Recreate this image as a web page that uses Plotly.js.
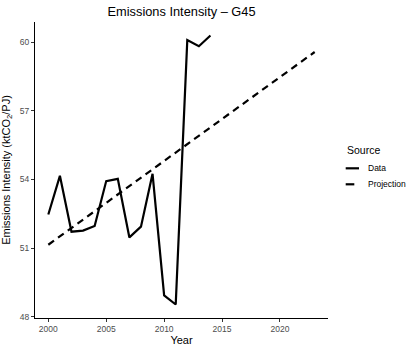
<!DOCTYPE html>
<html>
<head>
<meta charset="utf-8">
<script src="https://cdn.plot.ly/plotly-3.0.1.min.js"></script>
<style>
  html, body { margin: 0; padding: 0; background: #fff; }
  #chart { width: 415px; height: 346px; }
</style>
</head>
<body>
<div id="chart"></div>
<script>
// values
var years = [2000, 2001, 2002, 2003, 2004, 2005, 2006, 2007, 2008, 2009, 2010, 2011, 2012, 2013, 2014];
var intensity = [52.47, 54.16, 51.72, 51.77, 51.97, 53.93, 54.03, 51.47, 51.94, 54.25, 48.94, 48.54, 60.09, 59.82, 60.29];

var projYears = [2000, 2023];
var projValues = [51.15, 59.57];

var xTicks = [2000, 2005, 2010, 2015, 2020];
var yTicks = [48, 51, 54, 57, 60];

var font = "Liberation Sans, Arial, sans-serif";
var dashPattern = '7px,5px';

var dataTrace = {
    x: years,
    y: intensity,
    name: 'Data',
    type: 'scatter',
    mode: 'lines',
    line: {color: '#000', width: 2.2}
};

var projTrace = {
    x: projYears,
    y: projValues,
    name: 'Projection',
    type: 'scatter',
    mode: 'lines',
    line: {color: '#000', width: 2.2, dash: dashPattern}
};

var axisBase = {
    showgrid: false,
    zeroline: false,
    showline: true,
    linecolor: '#000',
    linewidth: 1,
    ticks: 'outside',
    ticklen: 3,
    tickwidth: 1,
    tickcolor: '#333',
    tickfont: {family: font, size: 8.5, color: '#4d4d4d'}
};

// ggplot style legend: short keys, built by hand because plotly keys are 30px min
var legendKeys = [
    {name: dataTrace.name, y: 0.5057, x1: 1.1058},
    {name: projTrace.name, y: 0.4517, x1: 1.0898}
];

var shapes = legendKeys.map(function (k) {
    return {
        type: 'line', xref: 'paper', yref: 'paper',
        x0: 1.0604, x1: k.x1, y0: k.y, y1: k.y,
        line: {color: '#000', width: 2.2}
    };
});

var annotations = legendKeys.map(function (k) {
    return {
        xref: 'paper', yref: 'paper', x: 1.1297, y: k.y,
        xanchor: 'left', yanchor: 'middle', showarrow: false,
        text: k.name, font: {family: font, size: 8.5, color: '#000'}
    };
});
annotations.push({
    xref: 'paper', yref: 'paper', x: 1.058, y: 0.5676,
    xanchor: 'left', yanchor: 'middle', showarrow: false,
    text: 'Source', font: {family: font, size: 10.5, color: '#000'}
});

var layout = {
    width: 415,
    height: 346,
    paper_bgcolor: '#fff',
    plot_bgcolor: '#fff',
    margin: {l: 35, r: 87, t: 22, b: 28, autoexpand: false},
    font: {family: font, color: '#000'},
    title: {
        text: 'Emissions Intensity \u2013 G45',
        font: {family: font, size: 12.8, color: '#000'},
        x: 0.4375, xanchor: 'center',
        y: 0.967, yanchor: 'middle'
    },
    xaxis: Object.assign({}, axisBase, {
        range: [1998.85, 2024.15],
        tickvals: xTicks,
        title: {text: 'Year', font: {family: font, size: 11, color: '#000'}, standoff: 2}
    }),
    yaxis: Object.assign({}, axisBase, {
        range: [47.95, 60.88],
        tickvals: yTicks,
        title: {text: 'Emissions Intensity (ktCO<sub>2</sub>/PJ)', font: {family: font, size: 11, color: '#000'}, standoff: 8}
    }),
    showlegend: false,
    shapes: shapes,
    annotations: annotations
};

Plotly.newPlot('chart', [dataTrace, projTrace], layout, {displayModeBar: false, staticPlot: true});
</script>
</body>
</html>
